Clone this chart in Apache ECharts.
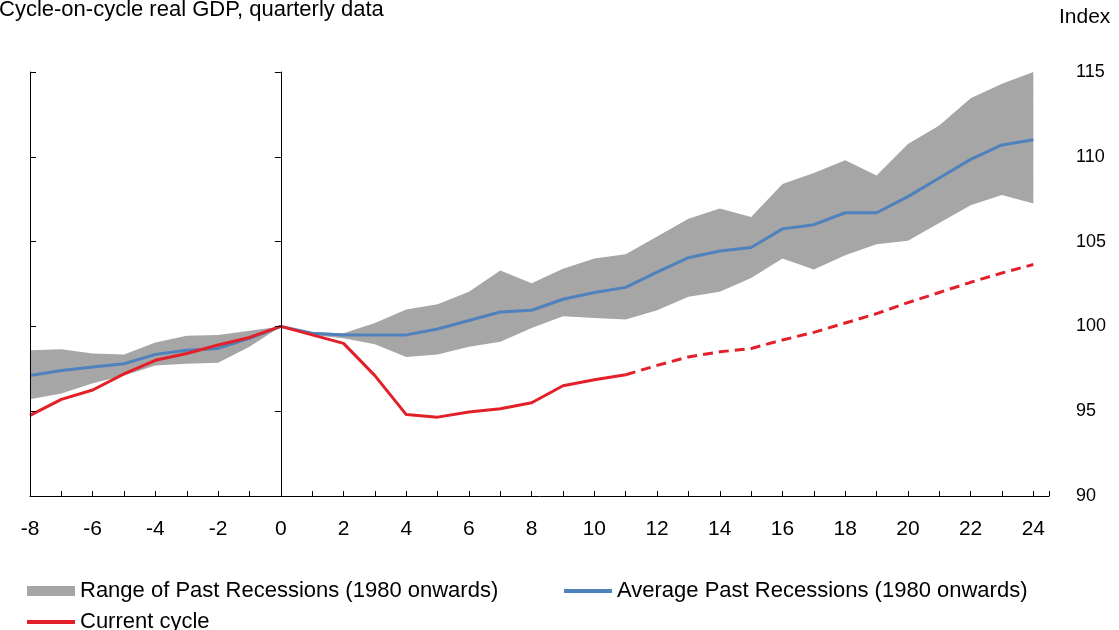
<!DOCTYPE html>
<html>
<head>
<meta charset="utf-8">
<script src="https://cdn.jsdelivr.net/npm/echarts@6/dist/echarts.min.js"></script>
<style>
  html, body { margin: 0; padding: 0; background: #fff; }
  #main { width: 1119px; height: 630px; }
</style>
</head>
<body>
<div id="main"></div>
<script>
// quarters relative to the cycle peak
const quarters = [-8, -7, -6, -5, -4, -3, -2, -1, 0, 1, 2, 3, 4, 5, 6, 7, 8, 9, 10, 11, 12,
  13, 14, 15, 16, 17, 18, 19, 20, 21, 22, 23, 24];

// range of past recessions (1980 onwards)
const rangeLow = [95.7, 96.05, 96.65, 97.1, 97.7, 97.8, 97.85, 98.8, 100, 99.5, 99.3, 98.95, 98.2,
  98.35, 98.8, 99.1, 99.9, 100.6, 100.5, 100.4, 100.95, 101.75, 102.05, 102.85, 104.0, 103.35,
  104.2, 104.85, 105.05, 106.1, 107.15, 107.75, 107.25];
const rangeHigh = [98.6, 98.65, 98.4, 98.35, 99.05, 99.45, 99.5, 99.75, 100, 99.65, 99.6, 100.2,
  101.0, 101.3, 102.05, 103.3, 102.55, 103.4, 104.0, 104.25, 105.3, 106.35, 106.95, 106.45, 108.4,
  109.05, 109.8, 108.9, 110.75, 111.85, 113.45, 114.3, 115.0];

// average past recessions (1980 onwards)
const average = [97.1, 97.4, 97.6, 97.8, 98.35, 98.6, 98.7, 99.3, 100, 99.6, 99.5, 99.5, 99.5,
  99.85, 100.35, 100.85, 100.95, 101.6, 102.0, 102.3, 103.2, 104.05, 104.45, 104.65, 105.75,
  106.0, 106.7, 106.7, 107.65, 108.75, 109.85, 110.7, 111.0];

// current cycle (solid up to quarter 11, dashed after)
const current = [94.75, 95.7, 96.25, 97.2, 98.0, 98.4, 98.9, 99.35, 100, 99.5, 99.0, 97.1, 94.8,
  94.65, 94.95, 95.15, 95.5, 96.5, 96.85, 97.15, 97.7, 98.2, 98.5, 98.7, 99.2, 99.65, 100.2,
  100.75, 101.4, 102.0, 102.6, 103.15, 103.65];
const projectionFrom = 11;

const pairs = (vals) => quarters.map((q, i) => [q, vals[i]]);
const solidPart = pairs(current).filter(p => p[0] <= projectionFrom);
const dashedPart = pairs(current).filter(p => p[0] >= projectionFrom);

const rangeName = 'Range of Past Recessions (1980 onwards)';
const avgName = 'Average Past Recessions (1980 onwards)';
const curName = 'Current cycle';

const GREY = '#a6a6a6', BLUE = '#4f81bd', RED = '#e3202a';
const font = 'Liberation Sans, Arial, sans-serif';
const txt = (size) => ({ fontFamily: font, fontSize: size, color: '#000', fontWeight: 'normal' });

// band polygon: upper edge left to right, lower edge back
function renderBand(params, api) {
  const pts = [];
  quarters.forEach((q, i) => pts.push(api.coord([q, rangeHigh[i]])));
  for (let i = quarters.length - 1; i >= 0; i--) pts.push(api.coord([quarters[i], rangeLow[i]]));
  return { type: 'polygon', shape: { points: pts }, style: { fill: GREY } };
}

const legendBase = { padding: 0, itemWidth: 48, itemGap: 0, textStyle: txt(22) };

const option = {
  animation: false,
  title: [
    { text: 'Cycle-on-cycle real GDP, quarterly data', left: -1, top: -1, padding: 0, textStyle: txt(22) },
    { text: 'Index', left: 1059, top: 7, padding: 0, textStyle: txt(21) }
  ],
  legend: [
    { ...legendBase, left: 27, top: 580, itemHeight: 10,
      data: [{ name: rangeName, icon: 'rect' }] },
    { ...legendBase, left: 564, top: 580, itemHeight: 4,
      data: [{ name: avgName, icon: 'rect' }] },
    { ...legendBase, left: 27, top: 611, itemHeight: 4,
      data: [{ name: curName, icon: 'rect' }] }
  ],
  grid: { left: 30, right: 70, top: 72, bottom: 134 },
  xAxis: {
    type: 'value', min: -8, max: 24.5, interval: 1, z: 10,
    axisLine: { show: true, onZero: false, lineStyle: { color: '#000', width: 1 } },
    axisTick: { show: true, inside: true, length: 5, lineStyle: { color: '#000' } },
    axisLabel: { ...txt(21), margin: 23,
      formatter: v => (Number.isInteger(v) && v % 2 === 0) ? String(v) : '' },
    splitLine: { show: false }
  },
  yAxis: [
    { type: 'value', position: 'right', min: 90, max: 115, interval: 5, z: 10,
      axisLine: { show: true, lineStyle: { color: '#000', width: 1 } },
      axisTick: { show: true, inside: true, length: 6, lineStyle: { color: '#000' } },
      axisLabel: { ...txt(18), margin: 27 },
      splitLine: { show: false } },
    { type: 'value', position: 'left', min: 90, max: 115, interval: 5, z: 10,
      axisLine: { show: true, lineStyle: { color: '#000', width: 1 } },
      axisTick: { show: true, inside: true, length: 6, lineStyle: { color: '#000' } },
      axisLabel: { show: false },
      splitLine: { show: false } }
  ],
  series: [
    { name: rangeName, type: 'custom', renderItem: renderBand, data: [[quarters[0], rangeLow[0]]],
      itemStyle: { color: GREY }, clip: true, silent: true, z: 1 },
    { name: avgName, type: 'line', data: pairs(average), symbol: 'none', color: BLUE,
      lineStyle: { width: 3, color: BLUE }, z: 3,
      markLine: { silent: true, symbol: 'none', label: { show: false },
        lineStyle: { color: '#333', width: 1, type: 'solid' }, data: [{ xAxis: 0 }] } },
    { name: curName, type: 'line', data: solidPart, symbol: 'none', color: RED,
      lineStyle: { width: 3, color: RED }, z: 4 },
    { name: 'Current cycle projection', type: 'line', data: dashedPart, symbol: 'none', color: RED,
      lineStyle: { width: 3, color: RED, type: [10, 6] }, z: 4 }
  ]
};

echarts.init(document.getElementById('main')).setOption(option);
</script>
</body>
</html>
